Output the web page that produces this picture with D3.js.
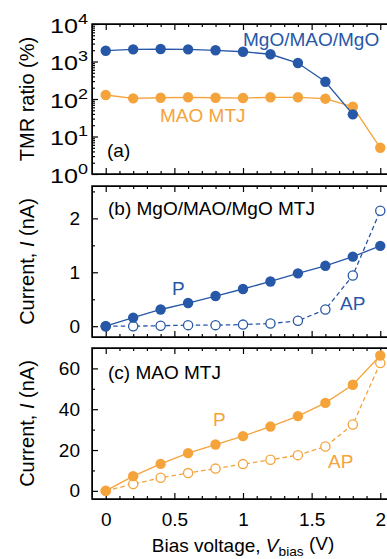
<!DOCTYPE html>
<html>
<head>
<meta charset="utf-8">
<script src="https://cdn.jsdelivr.net/npm/d3@7"></script>
<style>
  body { margin: 0; background: #fff; }
  svg { display: block; font-family: "Liberation Sans", Arial, Helvetica, sans-serif; }
  .frame { fill: none; stroke: #000; stroke-width: 1.5; }
  .tick line { stroke: #000; stroke-width: 1.2; }
</style>
</head>
<body>
<div id="chart"></div>
<script>
// ---- data ----
const vbias = [0, 0.2, 0.4, 0.6, 0.8, 1.0, 1.2, 1.4, 1.6, 1.8, 2.0];
// (a) TMR ratio (%)
const tmrMgoMaoMgo = [1940, 2110, 2150, 2110, 1990, 1820, 1560, 910, 289, 39];
const tmrMao = [128, 104, 108, 111, 108, 106, 111, 111, 102, 62, 5.0];
// (b) MgO/MAO/MgO MTJ current (nA)
const iMgoP = [0, 0.16, 0.31, 0.43, 0.56, 0.69, 0.83, 0.98, 1.12, 1.29, 1.49];
const iMgoAP = [0, 0, 0.01, 0.02, 0.02, 0.03, 0.05, 0.10, 0.31, 0.94, 2.14];
// (c) MAO MTJ current (nA)
const iMaoP = [0, 7.2, 13.2, 18.5, 22.7, 26.8, 31.5, 36.6, 43.1, 52.0, 66.3];
const iMaoAP = [0, 3.3, 6.4, 8.7, 10.9, 13.1, 15.2, 17.5, 21.7, 32.5, 62.6];

const xTicks = [0, 0.5, 1, 1.5, 2];
const ticksA = [1, 10, 100, 1000, 10000];
const ticksB = [0, 1, 2];
const ticksC = [0, 20, 40, 60];

const blue = '#2757a7', orange = '#f5a33b';
const width = 387, height = 559;
const fs = 19;

const svg = d3.select('#chart').append('svg')
  .attr('width', width).attr('height', height);

const left = 92, right = 394;
const x = d3.scaleLinear().domain([-0.1, 2.1]).range([left, right]);

const panels = [
  { top: 24, bottom: 174, y: d3.scaleLog().domain([1, 1e4]) },
  { top: 186, bottom: 337, y: d3.scaleLinear().domain([-0.2, 2.6]) },
  { top: 348, bottom: 499, y: d3.scaleLinear().domain([-4, 70]) }
];
panels.forEach(p => p.y.range([p.bottom, p.top]));

function xAxes(g, p, labels) {
  const minor = d3.range(0, 21).map(d => d / 10).filter(d => Math.round(d * 10) % 5 != 0);
  g.append('g').attr('transform', 'translate(0,' + p.bottom + ')')
    .call(d3.axisBottom(x).tickValues(minor).tickSize(-3).tickFormat(''));
  g.append('g').attr('transform', 'translate(0,' + p.top + ')')
    .call(d3.axisTop(x).tickValues(minor).tickSize(-3).tickFormat(''));
  g.append('g').attr('class', 'xmajor').attr('transform', 'translate(0,' + p.bottom + ')')
    .call(d3.axisBottom(x).tickValues(xTicks).tickSize(-6).tickPadding(14)
      .tickFormat(labels ? d3.format('') : ''));
  g.append('g').attr('transform', 'translate(0,' + p.top + ')')
    .call(d3.axisTop(x).tickValues(xTicks).tickSize(-6).tickFormat(''));
}

function yAxes(g, p, major, minor, pad, fmt) {
  g.append('g').attr('transform', 'translate(' + left + ',0)')
    .call(d3.axisLeft(p.y).tickValues(minor).tickSize(-3).tickFormat(''));
  g.append('g').attr('transform', 'translate(' + right + ',0)')
    .call(d3.axisRight(p.y).tickValues(minor).tickSize(-3).tickFormat(''));
  g.append('g').attr('class', 'ymajor').attr('transform', 'translate(' + left + ',0)')
    .call(d3.axisLeft(p.y).tickValues(major).tickSize(-6).tickPadding(pad).tickFormat(fmt));
  g.append('g').attr('transform', 'translate(' + right + ',0)')
    .call(d3.axisRight(p.y).tickValues(major).tickSize(-6).tickFormat(''));
}

function series(g, p, xs, ys, color, open, dashed) {
  const pts = ys.map((v, i) => [xs[i], v]);
  g.append('path').datum(pts)
    .attr('fill', 'none').attr('stroke', color).attr('stroke-width', 1.3)
    .attr('stroke-dasharray', dashed ? '4.5,3' : null)
    .attr('d', d3.line().x(d => x(d[0])).y(d => p.y(d[1])));
  g.selectAll(null).data(pts).enter().append('circle')
    .attr('cx', d => x(d[0])).attr('cy', d => p.y(d[1]))
    .attr('r', open ? 4.6 : 5.2)
    .attr('fill', open ? '#fff' : color)
    .attr('stroke', color).attr('stroke-width', open ? 1.3 : 0);
}

function label(g, px, py, txt, color, anchor) {
  return g.append('text').attr('x', px).attr('y', py)
    .attr('fill', color || '#000').attr('font-size', fs)
    .attr('text-anchor', anchor || 'start').text(txt);
}

function yTitle(g, p, parts) {
  const t = g.append('text')
    .attr('transform', 'translate(34,' + ((p.top + p.bottom) / 2) + ') rotate(-90)')
    .attr('text-anchor', 'middle').attr('font-size', 20);
  parts.forEach(s => t.append('tspan').attr('font-style', s[1] ? 'italic' : null).text(s[0]));
}

svg.selectAll('.tick text').remove();

// ---- panel (a) ----
{
  const p = panels[0];
  const g = svg.append('g');
  const minor = p.y.ticks().filter(d => ticksA.indexOf(d) < 0);
  yAxes(g, p, ticksA, minor, 4, '');
  g.selectAll('.ymajor .tick text').remove();
  g.selectAll('.ymajor .tick').append('text')
    .attr('x', -42).attr('y', 8).attr('fill', '#000').attr('text-anchor', 'start')
    .attr('textLength', 38).attr('lengthAdjust', 'spacingAndGlyphs')
    .each(function(d) {
      const t = d3.select(this);
      t.append('tspan').attr('font-size', 21).text('10');
      t.append('tspan').attr('dy', -9).attr('font-size', 15)
        .text(Math.round(Math.log10(d)));
    });
  xAxes(g, p, false);
  series(g, p, vbias, tmrMao, orange, false, false);
  series(g, p, vbias, tmrMgoMaoMgo, blue, false, false);
  g.append('rect').attr('class', 'frame')
    .attr('x', left).attr('y', p.top).attr('width', right - left).attr('height', p.bottom - p.top);
  label(g, 243, 46, 'MgO/MAO/MgO', blue);
  label(g, 160, 122, 'MAO MTJ', orange);
  label(g, 107, 157, '(a)');
  yTitle(g, p, [['TMR ratio (%)']]);
}

// ---- panel (b) ----
{
  const p = panels[1];
  const g = svg.append('g');
  yAxes(g, p, ticksB, [0.5, 1.5, 2.5], 12, d3.format(''));
  xAxes(g, p, false);
  series(g, p, vbias, iMgoAP, blue, true, true);
  series(g, p, vbias, iMgoP, blue, false, false);
  g.append('rect').attr('class', 'frame')
    .attr('x', left).attr('y', p.top).attr('width', right - left).attr('height', p.bottom - p.top);
  label(g, 108, 215, '(b) MgO/MAO/MgO MTJ');
  label(g, 172, 295, 'P', blue);
  label(g, 340, 310, 'AP', blue);
  yTitle(g, p, [['Current, '], ['I', true], [' (nA)']]);
}

// ---- panel (c) ----
{
  const p = panels[2];
  const g = svg.append('g');
  yAxes(g, p, ticksC, [10, 30, 50, 70], 12, d3.format(''));
  xAxes(g, p, true);
  series(g, p, vbias, iMaoAP, orange, true, true);
  series(g, p, vbias, iMaoP, orange, false, false);
  g.append('rect').attr('class', 'frame')
    .attr('x', left).attr('y', p.top).attr('width', right - left).attr('height', p.bottom - p.top);
  label(g, 108, 379, '(c) MAO MTJ');
  label(g, 213, 426, 'P', orange);
  label(g, 328, 468, 'AP', orange);
  yTitle(g, p, [['Current, '], ['I', true], [' (nA)']]);
}

svg.selectAll('.tick text').attr('fill', '#000')
  .attr('font-family', '"Liberation Sans", Arial, Helvetica, sans-serif')
  .filter(function() { return !d3.select(this).attr('textLength'); })
  .attr('font-size', fs);

// x-axis title
{
  const t = svg.append('text').attr('x', 243).attr('y', 552)
    .attr('text-anchor', 'middle').attr('font-size', fs);
  t.append('tspan').text('Bias voltage, ');
  t.append('tspan').attr('font-style', 'italic').text('V');
  t.append('tspan').attr('dy', '0.3em').attr('font-size', fs * 0.72).text('bias');
  t.append('tspan').attr('dy', '-0.3em').text(' (V)');
}
</script>
</body>
</html>
